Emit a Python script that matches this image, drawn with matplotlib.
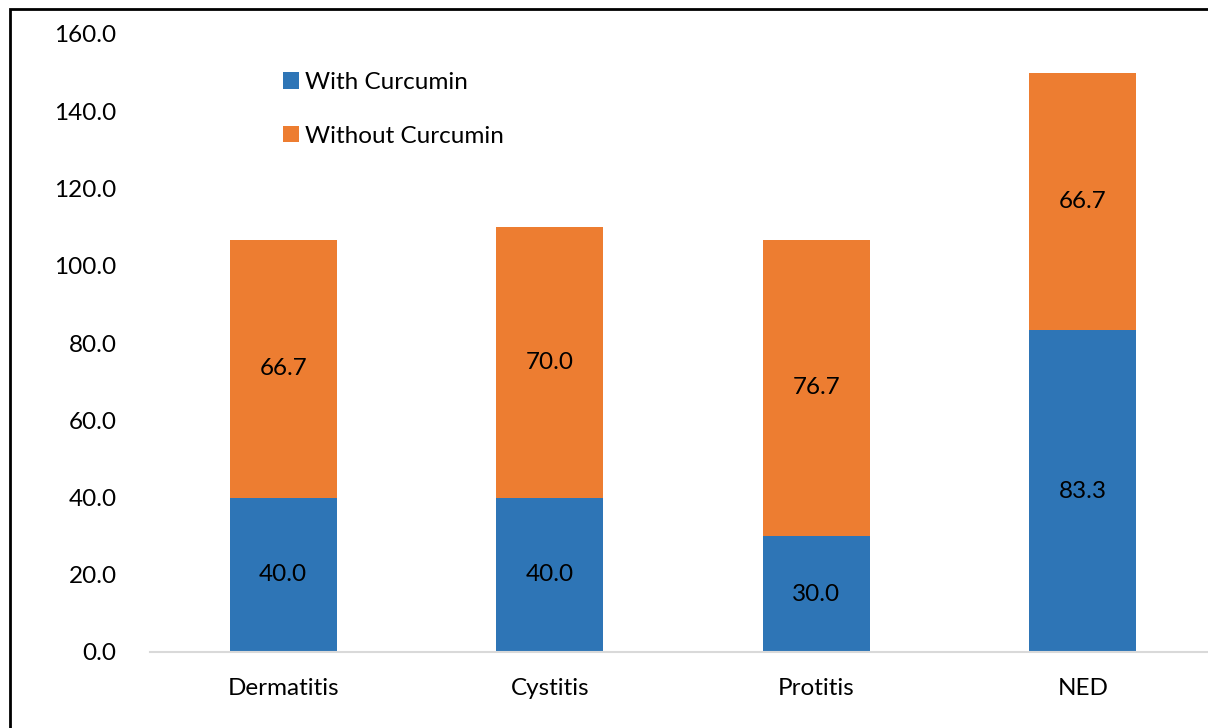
import matplotlib.pyplot as plt
from matplotlib.patches import Rectangle

categories = ['Dermatitis', 'Cystitis', 'Protitis', 'NED']
with_curcumin = [40.0, 40.0, 30.0, 83.3]
without_curcumin = [66.7, 70.0, 76.7, 66.7]

blue = '#2E75B6'
orange = '#ED7D31'

plt.rcParams['font.family'] = ['Lato', 'DejaVu Sans']
fs = 17.5

W, H = 1208, 728
fig = plt.figure(figsize=(W / 100, H / 100), dpi=100)
ax = fig.add_axes([150 / W, 1 - 652 / H, 1066 / W, 618 / H])

x = range(len(categories))
b1 = ax.bar(x, with_curcumin, width=0.4, color=blue, label='With Curcumin')
b2 = ax.bar(x, without_curcumin, width=0.4, bottom=with_curcumin, color=orange,
            label='Without Curcumin')
ax.bar_label(b1, labels=[f'{v:.1f}' for v in with_curcumin], label_type='center', fontsize=fs)
ax.bar_label(b2, labels=[f'{v:.1f}' for v in without_curcumin], label_type='center', fontsize=fs)

ax.set_xlim(-0.5, 3.5)
ax.set_ylim(0, 160)
ax.set_yticks(range(0, 161, 20))
ax.set_yticklabels([f'{v:.1f}' for v in range(0, 161, 20)], fontsize=fs)
ax.set_xticks(list(x))
ax.set_xticklabels(categories, fontsize=fs)
ax.tick_params(axis='y', length=0, pad=24)
ax.tick_params(axis='x', length=0, pad=19)
for s in ['top', 'right', 'left']:
    ax.spines[s].set_visible(False)
ax.spines['bottom'].set_color('#D9D9D9')
ax.spines['bottom'].set_linewidth(1.5)

ax.legend(loc='upper left', bbox_to_anchor=(283 / W, 1 - 72 / H),
          bbox_transform=fig.transFigure, frameon=False, fontsize=fs,
          handlelength=0.65, handleheight=0.65, handletextpad=0.25,
          labelspacing=1.35, borderpad=0, borderaxespad=0)

# outer frame (only top/left edges fall inside the image)
fig.patches.append(Rectangle((10 / W, -0.5), 2, 1.5 - 9 / H, transform=fig.transFigure,
                             fill=False, edgecolor='black', linewidth=2))

fig.savefig('out.png', dpi=100)
